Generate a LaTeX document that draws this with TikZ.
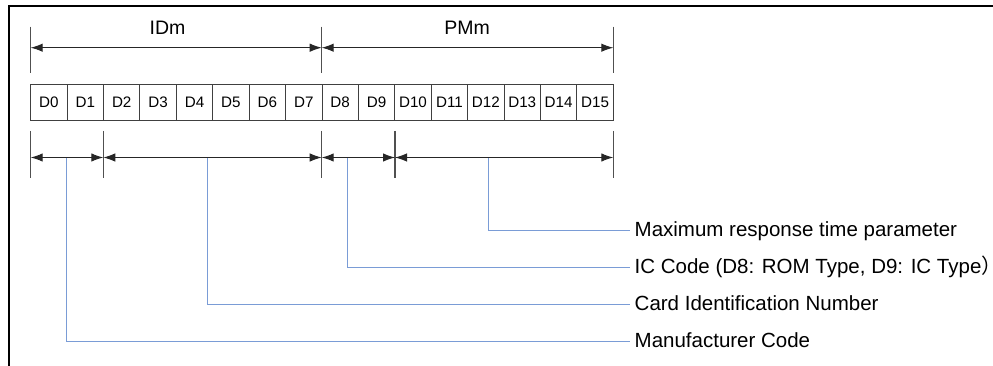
\documentclass[tikz,border=0pt]{standalone}
\usepackage{fontspec}
\setmainfont{Liberation Sans}
\newfontfamily\cjk{Noto Sans CJK SC}
\usetikzlibrary{arrows.meta}
\definecolor{leadblue}{HTML}{7A9CD6}
\definecolor{tickgray}{HTML}{505050}
\definecolor{cellgray}{HTML}{404040}
\begin{document}
\begin{tikzpicture}[x=1pt,y=-1pt,
  cell/.style={draw=cellgray,line width=0.9pt,minimum width=36.41pt,minimum height=36.7pt,
    inner sep=0pt,text height=10.7pt,text depth=0pt,font=\fontsize{15.2}{18}\selectfont},
  tickline/.style={draw=tickgray,line width=1.4pt},
  dim/.style={draw=black!85,line width=1pt,{Latex[length=12pt,width=8.5pt]}-{Latex[length=12pt,width=8.5pt]}},
  lead/.style={draw=leadblue,line width=1.5pt},
  lbl/.style={anchor=base west,inner sep=0pt,font=\fontsize{20.5}{24}\selectfont},
  head/.style={anchor=base,inner sep=0pt,font=\fontsize{19.5}{22}\selectfont}]
\useasboundingbox (0,0) rectangle (993,366);
% frame
\draw[line width=2pt] (9,366) -- (9,5.7) -- (993,5.7);
% cells
\foreach \i in {0,...,15} {
  \node[cell] (c\i) at ({30.7+36.41*(\i+0.5)},102.35) {D\i};
}
% top ticks
\foreach \n/\x in {t0/30.7,t8/321.7,t16/613.3} {
  \coordinate (\n a) at (\x,26.7);
  \coordinate (\n b) at (\x,73.3);
  \coordinate (\n) at (\x,47.7);
  \draw[tickline] (\n a) -- (\n b);
}
% bottom ticks
\foreach \n/\x in {b0/30.7,b2/103.3,b8/321.7,b10/395,b16/613.3} {
  \coordinate (\n a) at (\x,131);
  \coordinate (\n b) at (\x,178);
  \coordinate (\n) at (\x,157.5);
  \draw[tickline] (\n a) -- (\n b);
}
% dimension arrows
\draw[dim] (t0) -- (t8);
\draw[dim] (t8) -- (t16);
\draw[dim] (b0) -- (b2);
\draw[dim] (b2) -- (b8);
\draw[dim] (b8) -- (b10);
\draw[dim] (b10) -- (b16);
% headings
\node[head] (idm) at (167.5,35) {IDm};
\node[head] (pmm) at (467,35) {PMm};
% labels
\node[lbl] (lmax) at (634.5,236.5) {Maximum response time parameter};
\node[lbl] (lic) at (634.5,273.5) {IC Code (D8: ROM Type, D9: IC Type\makebox[0.3em][l]{\cjk ）}};
\node[lbl] (lcard) at (634.5,310.5) {Card Identification Number};
\node[lbl] (lman) at (634.5,347.5) {Manufacturer Code};
% leaders
\coordinate (smax) at (488.5,158);
\coordinate (sic) at (347.5,158);
\coordinate (scard) at (207.5,158);
\coordinate (sman) at (66.5,158);
\draw[lead] (smax) |- ([xshift=-5pt,yshift=6pt]lmax.base west);
\draw[lead] (sic) |- ([xshift=-5pt,yshift=6pt]lic.base west);
\draw[lead] (scard) |- ([xshift=-5pt,yshift=6pt]lcard.base west);
\draw[lead] (sman) |- ([xshift=-5pt,yshift=6pt]lman.base west);
\end{tikzpicture}
\end{document}
